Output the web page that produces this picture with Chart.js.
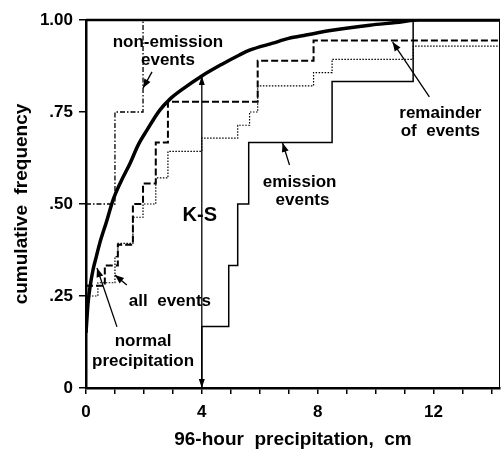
<!DOCTYPE html>
<html>
<head>
<meta charset="utf-8">
<script src="https://cdn.jsdelivr.net/npm/chart.js@4/dist/chart.umd.min.js"></script>
<style>
  body { margin: 0; background: #fff; }
  canvas { display: block; }
</style>
</head>
<body>
<canvas id="cdf" width="501" height="452"></canvas>
<script>
// tick values / labels
const xTickValues = [0, 1, 2, 3, 4, 5, 6, 7, 8, 9, 10, 11, 12, 13, 14];
const xTickLabels = ['0', '', '', '', '4', '', '', '', '8', '', '', '', '12', '', ''];
const yTickValues = [0, 0.25, 0.5, 0.75, 1];
const yTickLabels = ['0', '.25', '.50', '.75', '1.00'];

// normal precipitation (smooth cumulative curve)
const normalX = [0, 0.07, 0.15, 0.24, 0.35, 0.48, 0.7, 0.93, 1.2, 1.52, 1.8, 2.1, 2.55, 2.9, 3.3, 4.0, 4.7, 5.3, 5.65, 6.45, 7.0, 7.6, 8.5, 9.8, 10.7, 11.5, 14.3];
const normalY = [0.15, 0.23, 0.28, 0.32, 0.355, 0.395, 0.45, 0.51, 0.56, 0.61, 0.66, 0.70, 0.755, 0.785, 0.81, 0.848, 0.88, 0.905, 0.918, 0.937, 0.95, 0.959, 0.972, 0.986, 0.993, 1.0, 1.0];

// emission events (step)
const emissionX = [4.0, 4.0, 4.93, 5.24, 5.62, 8.5, 11.3, 14.3];
const emissionY = [0, 0.167, 0.333, 0.5, 0.667, 0.833, 1.0, 1.0];

// non-emission events (step)
const nonEmissionX = [0, 1.0, 1.97, 14.3];
const nonEmissionY = [0.5, 0.75, 1.0, 1.0];

// remainder of events (step)
const remainderX = [0, 0.65, 1.1, 1.62, 1.97, 2.41, 2.83, 5.93, 7.86, 14.3];
const remainderY = [0.278, 0.333, 0.389, 0.5, 0.556, 0.667, 0.778, 0.889, 0.944, 0.944];

// all events (step)
const allX = [0, 0.41, 1.0, 1.1, 1.62, 1.97, 2.41, 2.83, 4.0, 5.24, 5.65, 5.93, 7.86, 8.5, 11.3, 14.3];
const allY = [0.25, 0.286, 0.357, 0.393, 0.464, 0.5, 0.571, 0.643, 0.679, 0.714, 0.75, 0.821, 0.857, 0.893, 0.929, 0.929];

// K-S distance at 4 cm
const ksX = 4.0;
const ksTop = 0.848;

function pts(xs, ys) {
  return xs.map((x, i) => ({ x: x, y: ys[i] }));
}

const FONT = '"Liberation Sans", Arial, sans-serif';

// labels and arrows, given in data units
const notes = [
  { text: 'non-emission', x: 2.83, y: 0.940, size: 17 },
  { text: 'events', x: 2.83, y: 0.891, size: 17 },
  { text: 'remainder', x: 12.24, y: 0.747, size: 17 },
  { text: 'of  events', x: 12.24, y: 0.698, size: 17 },
  { text: 'emission', x: 7.38, y: 0.560, size: 17 },
  { text: 'events', x: 7.48, y: 0.511, size: 17 },
  { text: 'K-S', x: 3.93, y: 0.470, size: 20 },
  { text: 'all  events', x: 2.9, y: 0.236, size: 17 },
  { text: 'normal', x: 1.97, y: 0.128, size: 17 },
  { text: 'precipitation', x: 1.97, y: 0.073, size: 17 }
];
const arrows = [
  { x1: 2.28, y1: 0.859, x2: 1.97, y2: 0.815 },
  { x1: 11.86, y1: 0.791, x2: 10.59, y2: 0.940 },
  { x1: 7.03, y1: 0.606, x2: 6.79, y2: 0.666 },
  { x1: 1.41, y1: 0.280, x2: 1.0, y2: 0.307 },
  { x1: 1.07, y1: 0.166, x2: 0.38, y2: 0.326 }
];

function head(ctx, x1, y1, x2, y2, len, w) {
  const a = Math.atan2(y2 - y1, x2 - x1);
  ctx.beginPath();
  ctx.moveTo(x2, y2);
  ctx.lineTo(x2 - len * Math.cos(a) + w * Math.sin(a), y2 - len * Math.sin(a) - w * Math.cos(a));
  ctx.lineTo(x2 - len * Math.cos(a) - w * Math.sin(a), y2 - len * Math.sin(a) + w * Math.cos(a));
  ctx.closePath();
  ctx.fill();
}

const decor = {
  id: 'decor',
  afterDatasetsDraw(chart) {
    const ctx = chart.ctx;
    const xs = chart.scales.x, ys = chart.scales.y;
    const area = chart.chartArea;
    ctx.save();
    ctx.strokeStyle = '#000';
    ctx.fillStyle = '#000';

    // top and right frame
    ctx.lineWidth = 2.5;
    ctx.beginPath();
    ctx.moveTo(area.left, area.top);
    ctx.lineTo(area.right, area.top);
    ctx.stroke();
    ctx.lineWidth = 1;
    ctx.beginPath();
    ctx.moveTo(area.right - 0.5, area.top);
    ctx.lineTo(area.right - 0.5, area.bottom);
    ctx.stroke();

    // K-S double arrow
    const kx = xs.getPixelForValue(ksX);
    const k0 = ys.getPixelForValue(0);
    const k1 = ys.getPixelForValue(ksTop);
    ctx.lineWidth = 1.3;
    ctx.beginPath();
    ctx.moveTo(kx, k0);
    ctx.lineTo(kx, k1);
    ctx.stroke();
    head(ctx, kx, k0 - 10, kx, k0, 9, 3);
    head(ctx, kx, k1 + 10, kx, k1, 9, 3);

    // pointer arrows
    ctx.lineWidth = 1.3;
    arrows.forEach(a => {
      const x1 = xs.getPixelForValue(a.x1), y1 = ys.getPixelForValue(a.y1);
      const x2 = xs.getPixelForValue(a.x2), y2 = ys.getPixelForValue(a.y2);
      ctx.beginPath();
      ctx.moveTo(x1, y1);
      ctx.lineTo(x2, y2);
      ctx.stroke();
      head(ctx, x1, y1, x2, y2, 9, 3.5);
    });

    // text
    ctx.textAlign = 'center';
    ctx.textBaseline = 'middle';
    notes.forEach(n => {
      ctx.font = 'bold ' + n.size + 'px ' + FONT;
      ctx.fillText(n.text, xs.getPixelForValue(n.x), ys.getPixelForValue(n.y));
    });
    ctx.restore();
  }
};

const stepStyle = { showLine: true, pointRadius: 0, stepped: 'before', fill: false, borderColor: '#000' };

new Chart(document.getElementById('cdf').getContext('2d'), {
  type: 'scatter',
  data: {
    datasets: [
      { label: 'normal precipitation', data: pts(normalX, normalY), showLine: true, pointRadius: 0,
        borderColor: '#000', borderWidth: 3.5, tension: 0.3, cubicInterpolationMode: 'monotone' },
      Object.assign({ label: 'emission events', data: pts(emissionX, emissionY), borderWidth: 1.5 }, stepStyle),
      Object.assign({ label: 'non-emission events', data: pts(nonEmissionX, nonEmissionY), borderWidth: 1.3,
        borderDash: [5, 2, 1.5, 2] }, stepStyle),
      Object.assign({ label: 'remainder of events', data: pts(remainderX, remainderY), borderWidth: 2,
        borderDash: [7, 3] }, stepStyle),
      Object.assign({ label: 'all events', data: pts(allX, allY), borderWidth: 1.2,
        borderDash: [1.5, 1.5] }, stepStyle)
    ]
  },
  options: {
    responsive: false,
    animation: false,
    layout: { padding: { top: 20, right: 1, left: 0, bottom: 0 } },
    plugins: { legend: { display: false }, tooltip: { enabled: false } },
    scales: {
      x: {
        type: 'linear',
        min: 0,
        max: 14.3,
        afterBuildTicks: scale => { scale.ticks = xTickValues.map(v => ({ value: v })); },
        afterFit: scale => { scale.height = 64; },
        ticks: {
          autoSkip: false,
          maxRotation: 0,
          padding: 8,
          color: '#000',
          font: { family: FONT, size: 17, weight: 'bold' },
          callback: (v) => xTickLabels[xTickValues.indexOf(v)]
        },
        grid: { display: true, drawOnChartArea: false, drawTicks: true, tickLength: 6, color: '#000', lineWidth: 1.5 },
        border: { display: true, color: '#000', width: 2.5 },
        title: {
          display: true,
          text: '96-hour  precipitation,  cm',
          color: '#000',
          font: { family: FONT, size: 19, weight: 'bold' },
          padding: { top: 0, bottom: 1 }
        }
      },
      y: {
        type: 'linear',
        min: 0,
        max: 1,
        afterBuildTicks: scale => { scale.ticks = yTickValues.map(v => ({ value: v })); },
        afterFit: scale => { scale.width = 86; },
        ticks: {
          padding: 6,
          color: '#000',
          font: { family: FONT, size: 17, weight: 'bold' },
          callback: (v) => yTickLabels[yTickValues.indexOf(v)]
        },
        grid: { display: true, drawOnChartArea: false, drawTicks: true, tickLength: 7, color: '#000', lineWidth: 1.5 },
        border: { display: true, color: '#000', width: 2.5 },
        title: {
          display: true,
          text: 'cumulative  frequency',
          color: '#000',
          font: { family: FONT, size: 19, weight: 'bold' },
          padding: { top: 10, bottom: 0 }
        }
      }
    }
  },
  plugins: [decor]
});
</script>
</body>
</html>
